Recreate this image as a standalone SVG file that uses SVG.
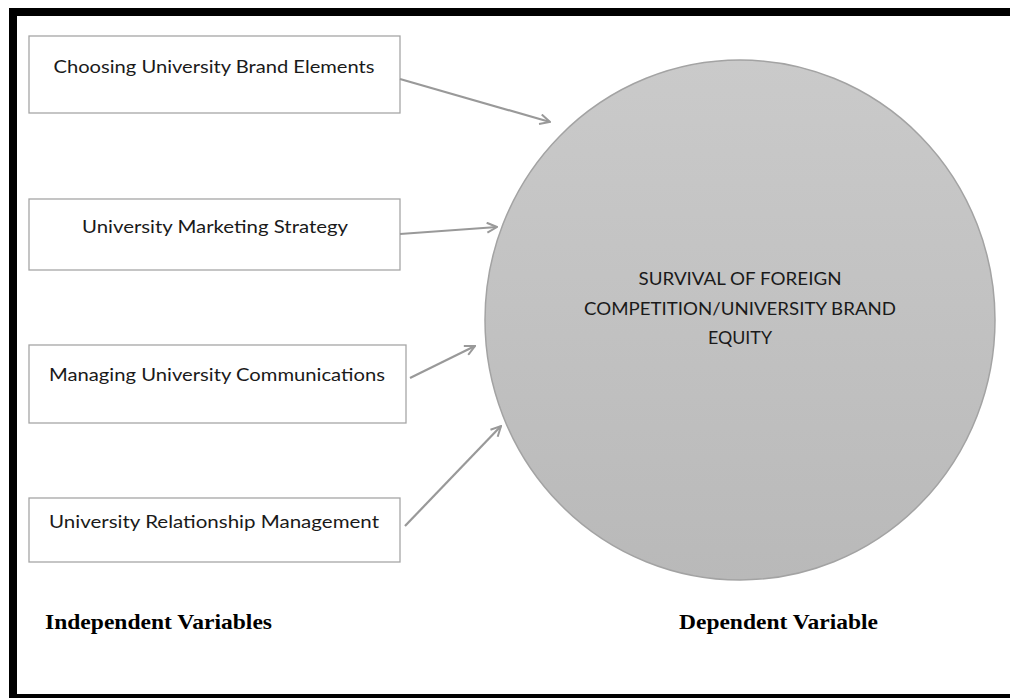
<svg xmlns="http://www.w3.org/2000/svg" width="1010" height="698" viewBox="0 0 1010 698">
  <style>
    .box { fill: #ffffff; stroke: #a6a6a6; stroke-width: 1.3; }
    .lbl { font-family: Lato, "Open Sans", "Liberation Sans", sans-serif; font-size: 17.5px; fill: #1a1a1a; text-anchor: middle; }
    .ctr { font-family: Lato, "Open Sans", "Liberation Sans", sans-serif; font-size: 17px; fill: #1a1a1a; text-anchor: middle; }
    .cap { font-family: "Liberation Serif", "Times New Roman", serif; font-size: 21px; font-weight: bold; fill: #000000; }
    .conn { stroke: #999999; stroke-width: 2.2; fill: none; marker-end: url(#head); }
  </style>
  <defs>
    <linearGradient id="disc" x1="0" y1="0" x2="0" y2="1">
      <stop offset="0" stop-color="#cacaca"/>
      <stop offset="1" stop-color="#b9b9b9"/>
    </linearGradient>
    <marker id="head" viewBox="0 0 12 12" refX="11" refY="6" markerWidth="12" markerHeight="12" markerUnits="userSpaceOnUse" orient="auto">
      <path d="M1,1 L11,6 L1,11" fill="none" stroke="#999999" stroke-width="2"/>
    </marker>
  </defs>

  <!-- white page with black frame (top, left, bottom) -->
  <rect x="0" y="0" width="1010" height="698" fill="#ffffff"/>
  <rect x="9" y="8" width="1001" height="8" fill="#000000"/>
  <rect x="9" y="8" width="8" height="690" fill="#000000"/>
  <rect x="9" y="694" width="1001" height="4" fill="#000000"/>

  <!-- dependent variable -->
  <g id="equity">
    <ellipse cx="740" cy="320" rx="255" ry="260" fill="url(#disc)" stroke="#a3a3a3" stroke-width="1.5"/>
    <text class="ctr" x="740" y="285" textLength="203" lengthAdjust="spacingAndGlyphs">SURVIVAL OF FOREIGN</text>
    <text class="ctr" x="740" y="315" textLength="312" lengthAdjust="spacingAndGlyphs">COMPETITION/UNIVERSITY BRAND</text>
    <text class="ctr" x="740" y="344" textLength="64" lengthAdjust="spacingAndGlyphs">EQUITY</text>
  </g>

  <!-- independent variables -->
  <g id="brand-elements">
    <rect class="box" x="29" y="36" width="371" height="77"/>
    <text class="lbl" x="214" y="73" textLength="321" lengthAdjust="spacingAndGlyphs">Choosing University Brand Elements</text>
  </g>
  <g id="marketing-strategy">
    <rect class="box" x="29" y="199" width="371" height="71"/>
    <text class="lbl" x="215" y="233" textLength="266" lengthAdjust="spacingAndGlyphs">University Marketing Strategy</text>
  </g>
  <g id="communications">
    <rect class="box" x="29" y="345" width="377" height="78"/>
    <text class="lbl" x="217" y="381" textLength="336" lengthAdjust="spacingAndGlyphs">Managing University Communications</text>
  </g>
  <g id="relationship">
    <rect class="box" x="29" y="498" width="371" height="64"/>
    <text class="lbl" x="214" y="528" textLength="330" lengthAdjust="spacingAndGlyphs">University Relationship Management</text>
  </g>

  <!-- connectors -->
  <g id="connectors">
    <line class="conn" x1="400" y1="79" x2="550" y2="122"/>
    <line class="conn" x1="400" y1="234" x2="497" y2="227"/>
    <line class="conn" x1="410" y1="378" x2="475" y2="346"/>
    <line class="conn" x1="405" y1="526" x2="501" y2="426"/>
  </g>

  <!-- captions -->
  <text class="cap" x="45" y="629" textLength="227" lengthAdjust="spacingAndGlyphs">Independent Variables</text>
  <text class="cap" x="679" y="629" textLength="199" lengthAdjust="spacingAndGlyphs">Dependent Variable</text>
</svg>
